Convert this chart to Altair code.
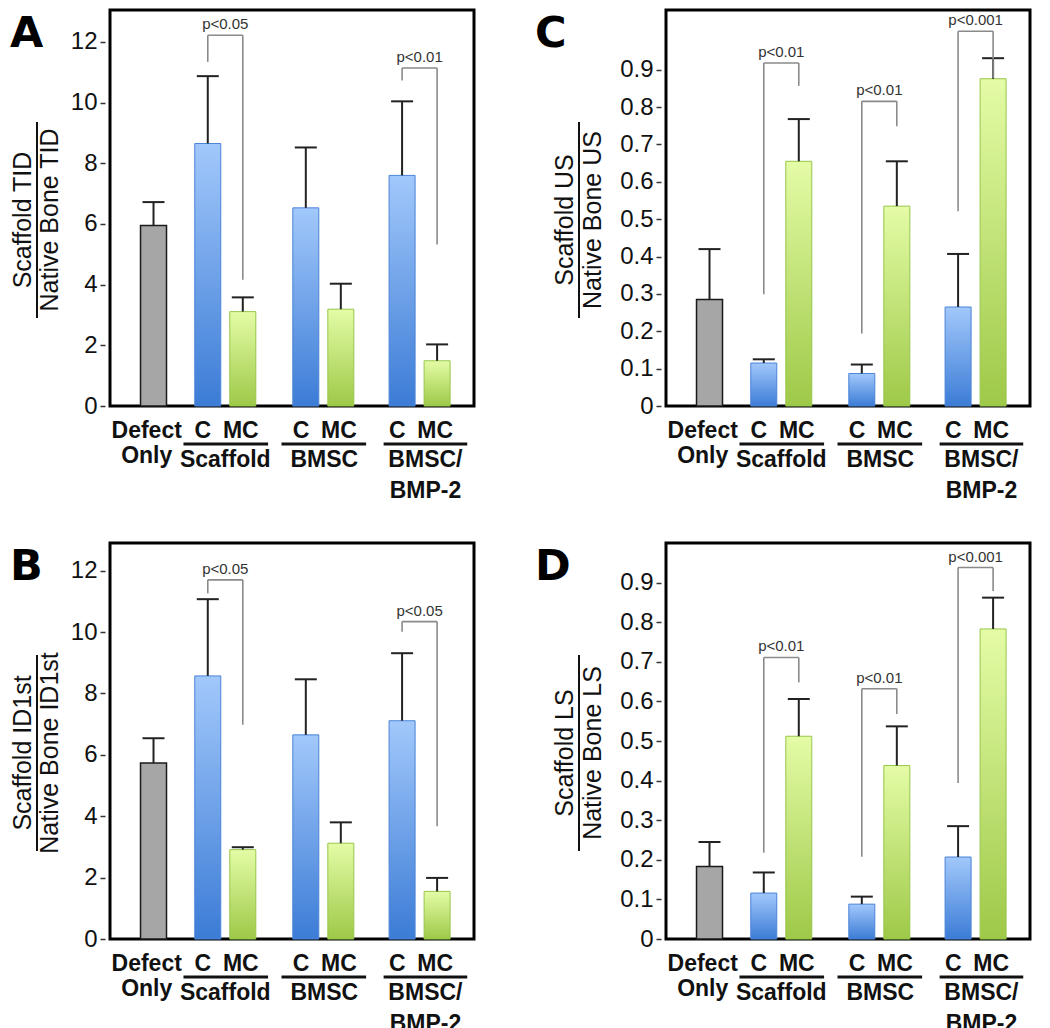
import altair as alt
import pandas as pd

# ---------------- data ----------------
CATEGORIES = ["Defect Only", "Scaffold C", "Scaffold MC", "BMSC C", "BMSC MC",
              "BMSC/BMP-2 C", "BMSC/BMP-2 MC"]
KINDS = ["defect", "C", "MC", "C", "MC", "C", "MC"]
GROUP_NAMES = ["Scaffold", "BMSC", "BMSC/\nBMP-2"]

TID_MEAN = [5.95, 8.65, 3.11, 6.53, 3.19, 7.60, 1.49]
TID_ERR = [0.77, 2.22, 0.47, 1.99, 0.84, 2.44, 0.54]
ID1ST_MEAN = [5.73, 8.57, 2.91, 6.65, 3.12, 7.11, 1.55]
ID1ST_ERR = [0.81, 2.50, 0.08, 1.81, 0.68, 2.20, 0.44]
US_MEAN = [0.285, 0.115, 0.655, 0.087, 0.535, 0.265, 0.876]
US_ERR = [0.135, 0.010, 0.113, 0.024, 0.120, 0.142, 0.055]
LS_MEAN = [0.183, 0.116, 0.512, 0.088, 0.438, 0.207, 0.783]
LS_ERR = [0.062, 0.052, 0.094, 0.019, 0.099, 0.078, 0.079]

# significance brackets: (pair index, label, bracket top, left leg end, right leg end)
TID_SIG = [(0, "p<0.05", 12.22, 11.34, 4.16), (2, "p<0.01", 11.14, 10.73, 5.32)]
ID1ST_SIG = [(0, "p<0.05", 11.70, 11.26, 6.98), (2, "p<0.05", 10.34, 10.01, 3.67)]
US_SIG = [(0, "p<0.01", 0.918, 0.299, 0.857), (1, "p<0.01", 0.8155, 0.194, 0.749),
          (2, "p<0.001", 1.003, 0.521, 0.878)]
LS_SIG = [(0, "p<0.01", 0.711, 0.218, 0.648), (1, "p<0.01", 0.632, 0.208, 0.568),
          (2, "p<0.001", 0.938, 0.394, 0.879)]

TICKS_BIG = [0, 2, 4, 6, 8, 10, 12]
TICKS_SMALL = [0, 0.1, 0.2, 0.3, 0.4, 0.5, 0.6, 0.7, 0.8, 0.9]

# ---------------- layout / style ----------------
W, H = 364, 396
UNIT = 36.0
XMAX = W / UNIT
X_POS = [1.1, 2.65, 3.65, 5.45, 6.45, 8.2, 9.2]
PAIRS = [(1, 2), (3, 4), (5, 6)]
FONT = "Liberation Sans"
BAR_W = 26
LAB_SIZE = 23

GRAY_FILL = "#a6a6a6"
BLUE_GRAD = alt.LinearGradient(gradient="linear", x1=0, x2=0, y1=0, y2=1,
                               stops=[alt.GradientStop(color="#a2c8fb", offset=0),
                                      alt.GradientStop(color="#3c7cd6", offset=1)])
GREEN_GRAD = alt.LinearGradient(gradient="linear", x1=0, x2=0, y1=0, y2=1,
                                stops=[alt.GradientStop(color="#e4fca6", offset=0),
                                       alt.GradientStop(color="#9ec948", offset=1)])


def panel(letter, mean, err, sig, ymax, ticks, title_top, title_bottom, dxs):
    letter_dx, t1_dx, rule_dx, t2_dx = dxs
    xs = alt.Scale(domain=[0, XMAX], nice=False, zero=False)
    ys = alt.Scale(domain=[0, ymax], nice=False, zero=False)
    yaxis = alt.Axis(values=ticks, format="~g", domain=False, grid=False, ticks=True,
                     tickSize=5, tickWidth=1.5, tickColor="#333", labelFontSize=24,
                     labelFont=FONT, labelColor="#111", labelPadding=3, offset=5,
                     title=None)

    def X(f="x"):
        return alt.X(f"{f}:Q", scale=xs, axis=None)

    def Y(f="y"):
        return alt.Y(f"{f}:Q", scale=ys, axis=yaxis)

    df = pd.DataFrame({"cat": CATEGORIES, "kind": KINDS, "x": X_POS,
                       "mean": mean, "base": [0] * 7,
                       "top": [m + e for m, e in zip(mean, err)]})

    gray = alt.Chart(df[df.kind == "defect"]).mark_bar(
        width=BAR_W, fill=GRAY_FILL, stroke="#1a1a1a", strokeWidth=1.5
    ).encode(x=X(), y=Y("mean"), y2="base:Q")
    blue = alt.Chart(df[df.kind == "C"]).mark_bar(
        width=BAR_W, fill=BLUE_GRAD, stroke="#4a84d8", strokeWidth=1
    ).encode(x=X(), y=Y("mean"), y2="base:Q")
    green = alt.Chart(df[df.kind == "MC"]).mark_bar(
        width=BAR_W, fill=GREEN_GRAD, stroke="#97c64a", strokeWidth=1
    ).encode(x=X(), y=Y("mean"), y2="base:Q")

    err_v = alt.Chart(df).mark_rule(color="#222", strokeWidth=2).encode(
        x=X(), y=Y("mean"), y2="top:Q")
    err_cap = alt.Chart(df).mark_rule(color="#222", strokeWidth=2,
                                      xOffset=-11, x2Offset=11).encode(
        x=X(), x2="x:Q", y=Y("top"))

    # significance brackets
    rows = []
    for p, lab, top, lb, rb in sig:
        ci, mi = PAIRS[p]
        rows.append({"xl": X_POS[ci], "xr": X_POS[mi], "xm": (X_POS[ci] + X_POS[mi]) / 2,
                     "top": top, "lb": lb, "rb": rb, "lab": lab})
    sdf = pd.DataFrame(rows)
    bstyle = dict(color="#8a8a8a", strokeWidth=1.6)
    b_left = alt.Chart(sdf).mark_rule(**bstyle).encode(x=X("xl"), y=Y("lb"), y2="top:Q")
    b_right = alt.Chart(sdf).mark_rule(**bstyle).encode(x=X("xr"), y=Y("rb"), y2="top:Q")
    b_top = alt.Chart(sdf).mark_rule(**bstyle).encode(x=X("xl"), x2="xr:Q", y=Y("top"))
    b_txt = alt.Chart(sdf).mark_text(font=FONT, fontSize=15, color="#333",
                                     baseline="alphabetic", yOffset=-6).encode(
        x=X("xm"), y=Y("top"), text="lab:N")

    # category labels under the plot
    row1 = pd.DataFrame({"x": [X_POS[i] + s / UNIT for i, s in
                               zip([1, 2, 3, 4, 5, 6], [-5, -2, -5, -2, -5, -2])],
                         "y": [0] * 6, "t": ["C", "MC"] * 3})
    lab1 = alt.Chart(row1).mark_text(font=FONT, fontSize=LAB_SIZE, fontWeight="bold",
                                     color="#111", baseline="alphabetic",
                                     yOffset=32).encode(x=X(), y=Y(), text="t:N")
    drow = pd.DataFrame({"x": [X_POS[0] - 7 / UNIT], "y": [0], "t": ["Defect\nOnly"]})
    labd = alt.Chart(drow).mark_text(font=FONT, fontSize=LAB_SIZE, fontWeight="bold",
                                     color="#111", baseline="alphabetic", lineBreak="\n",
                                     lineHeight=25, yOffset=32).encode(
        x=X(), y=Y(), text="t:N")
    gshift = [0, 1, 6]
    grow = pd.DataFrame({"x": [(X_POS[c] + X_POS[m]) / 2 + s / UNIT
                               for (c, m), s in zip(PAIRS, gshift)],
                         "y": [0] * 3, "t": GROUP_NAMES})
    labg = alt.Chart(grow).mark_text(font=FONT, fontSize=LAB_SIZE, fontWeight="bold",
                                     color="#111", baseline="alphabetic", lineBreak="\n",
                                     lineHeight=31, yOffset=61).encode(
        x=X(), y=Y(), text="t:N")
    lshift = [(-25, 26), (-25, 26), (-19, 31)]
    ulin = pd.DataFrame({"x": [X_POS[c] + a / UNIT for (c, m), (a, b) in zip(PAIRS, lshift)],
                         "x2": [X_POS[m] + b / UNIT for (c, m), (a, b) in zip(PAIRS, lshift)],
                         "y": [0] * 3})
    under = alt.Chart(ulin).mark_rule(color="#111", strokeWidth=2.8, yOffset=38).encode(
        x=X(), x2="x2:Q", y=Y())

    # y title as a fraction, and panel letter
    mid = pd.DataFrame({"x": [0], "y": [ymax / 2], "t1": [title_top], "t2": [title_bottom],
                        "ytop": [ymax], "L": [letter]})
    tstyle = dict(font=FONT, fontSize=25, color="#111", angle=270, align="center",
                  baseline="middle", yOffset=12)
    t1 = alt.Chart(mid).mark_text(xOffset=t1_dx, **tstyle).encode(
        x=X(), y=Y(), text="t1:N")
    t2 = alt.Chart(mid).mark_text(xOffset=t2_dx, **tstyle).encode(
        x=X(), y=Y(), text="t2:N")
    frac = alt.Chart(mid).mark_rule(color="#111", strokeWidth=2, xOffset=rule_dx,
                                    yOffset=12 - 98, y2Offset=12 + 98).encode(
        x=X(), y=Y(), y2="y:Q")
    let = alt.Chart(mid).mark_text(font="DejaVu Sans", fontSize=43, fontWeight="bold",
                                   color="#000", align="left", baseline="alphabetic",
                                   xOffset=letter_dx, yOffset=37).encode(
        x=X(), y=Y("ytop"), text="L:N")

    return alt.layer(gray, blue, green, err_v, err_cap, b_left, b_right, b_top, b_txt,
                     lab1, labd, labg, under, t1, t2, frac, let).properties(
        width=W, height=H)


LEFT_DX = (-105, -92, -78, -65)
RIGHT_DX = (-136, -106, -92, -78)

pA = panel("A", TID_MEAN, TID_ERR, TID_SIG, 13.05, TICKS_BIG,
           "Scaffold TID", "Native Bone TID", LEFT_DX)
pB = panel("B", ID1ST_MEAN, ID1ST_ERR, ID1ST_SIG, 12.9, TICKS_BIG,
           "Scaffold ID1st", "Native Bone ID1st", LEFT_DX)
pC = panel("C", US_MEAN, US_ERR, US_SIG, 1.06, TICKS_SMALL,
           "Scaffold US", "Native Bone US", RIGHT_DX)
pD = panel("D", LS_MEAN, LS_ERR, LS_SIG, 1.0, TICKS_SMALL,
           "Scaffold LS", "Native Bone LS", RIGHT_DX)

chart = alt.vconcat(
    alt.hconcat(pA, pC, spacing=57),
    alt.hconcat(pB, pD, spacing=57),
    spacing=36,
).properties(padding=0, background="white").configure_view(
    stroke="black", strokeWidth=3
)

chart.save("out.html", embed_options={"renderer": "svg", "actions": False})
